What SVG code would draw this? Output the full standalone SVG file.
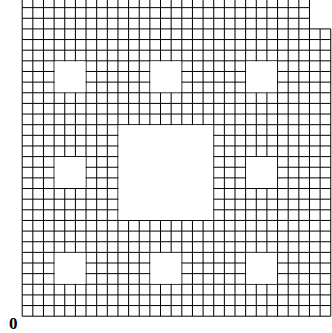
<svg xmlns="http://www.w3.org/2000/svg" width="332" height="333" viewBox="0 0 332 333">
<style>
.g line{stroke:#000;stroke-width:1}
.hole{fill:#fff;stroke:none}
.lbl{font-family:"Liberation Serif","Times New Roman",serif;font-weight:bold;font-size:17px;fill:#000}
</style>
<rect width="332" height="333" fill="#fff"/>
<g id="grid" class="g">
<g id="verticals">
<line x1="22.2" y1="0" x2="22.2" y2="316.2"/>
<line x1="32.84" y1="0" x2="32.84" y2="316.2"/>
<line x1="43.48" y1="0" x2="43.48" y2="316.2"/>
<line x1="54.12" y1="0" x2="54.12" y2="316.2"/>
<line x1="64.76" y1="0" x2="64.76" y2="316.2"/>
<line x1="75.4" y1="0" x2="75.4" y2="316.2"/>
<line x1="86.04" y1="0" x2="86.04" y2="316.2"/>
<line x1="96.68" y1="0" x2="96.68" y2="316.2"/>
<line x1="107.32" y1="0" x2="107.32" y2="316.2"/>
<line x1="117.96" y1="0" x2="117.96" y2="316.2"/>
<line x1="128.6" y1="0" x2="128.6" y2="316.2"/>
<line x1="139.24" y1="0" x2="139.24" y2="316.2"/>
<line x1="149.88" y1="0" x2="149.88" y2="316.2"/>
<line x1="160.52" y1="0" x2="160.52" y2="316.2"/>
<line x1="171.16" y1="0" x2="171.16" y2="316.2"/>
<line x1="181.8" y1="0" x2="181.8" y2="316.2"/>
<line x1="192.44" y1="0" x2="192.44" y2="316.2"/>
<line x1="203.08" y1="0" x2="203.08" y2="316.2"/>
<line x1="213.72" y1="0" x2="213.72" y2="316.2"/>
<line x1="224.36" y1="0" x2="224.36" y2="316.2"/>
<line x1="235" y1="0" x2="235" y2="316.2"/>
<line x1="245.64" y1="0" x2="245.64" y2="316.2"/>
<line x1="256.28" y1="0" x2="256.28" y2="316.2"/>
<line x1="266.92" y1="0" x2="266.92" y2="316.2"/>
<line x1="277.56" y1="0" x2="277.56" y2="316.2"/>
<line x1="288.2" y1="0" x2="288.2" y2="316.2"/>
<line x1="298.84" y1="0" x2="298.84" y2="316.2"/>
<line x1="309.48" y1="0" x2="309.48" y2="316.2"/>
<line x1="320.12" y1="28.92" x2="320.12" y2="316.2"/>
<line x1="330.76" y1="28.92" x2="330.76" y2="316.2"/>
</g>
<g id="horizontals">
<line x1="22.2" y1="316.2" x2="330.76" y2="316.2"/>
<line x1="22.2" y1="305.56" x2="330.76" y2="305.56"/>
<line x1="22.2" y1="294.92" x2="330.76" y2="294.92"/>
<line x1="22.2" y1="284.28" x2="330.76" y2="284.28"/>
<line x1="22.2" y1="273.64" x2="330.76" y2="273.64"/>
<line x1="22.2" y1="263" x2="330.76" y2="263"/>
<line x1="22.2" y1="252.36" x2="330.76" y2="252.36"/>
<line x1="22.2" y1="241.72" x2="330.76" y2="241.72"/>
<line x1="22.2" y1="231.08" x2="330.76" y2="231.08"/>
<line x1="22.2" y1="220.44" x2="330.76" y2="220.44"/>
<line x1="22.2" y1="209.8" x2="330.76" y2="209.8"/>
<line x1="22.2" y1="199.16" x2="330.76" y2="199.16"/>
<line x1="22.2" y1="188.52" x2="330.76" y2="188.52"/>
<line x1="22.2" y1="177.88" x2="330.76" y2="177.88"/>
<line x1="22.2" y1="167.24" x2="330.76" y2="167.24"/>
<line x1="22.2" y1="156.6" x2="330.76" y2="156.6"/>
<line x1="22.2" y1="145.96" x2="330.76" y2="145.96"/>
<line x1="22.2" y1="135.32" x2="330.76" y2="135.32"/>
<line x1="22.2" y1="124.68" x2="330.76" y2="124.68"/>
<line x1="22.2" y1="114.04" x2="330.76" y2="114.04"/>
<line x1="22.2" y1="103.4" x2="330.76" y2="103.4"/>
<line x1="22.2" y1="92.76" x2="330.76" y2="92.76"/>
<line x1="22.2" y1="82.12" x2="330.76" y2="82.12"/>
<line x1="22.2" y1="71.48" x2="330.76" y2="71.48"/>
<line x1="22.2" y1="60.84" x2="330.76" y2="60.84"/>
<line x1="22.2" y1="50.2" x2="330.76" y2="50.2"/>
<line x1="22.2" y1="39.56" x2="330.76" y2="39.56"/>
<line x1="22.2" y1="28.92" x2="330.76" y2="28.92"/>
<line x1="22.2" y1="18.28" x2="309.48" y2="18.28"/>
<line x1="22.2" y1="7.64" x2="309.48" y2="7.64"/>
</g>
</g>
<g id="holes">
<rect class="hole" x="118.46" y="125.18" width="94.76" height="94.76"/>
<rect class="hole" x="54.62" y="61.34" width="30.92" height="30.92"/>
<rect class="hole" x="150.38" y="61.34" width="30.92" height="30.92"/>
<rect class="hole" x="246.14" y="61.34" width="30.92" height="30.92"/>
<rect class="hole" x="54.62" y="157.1" width="30.92" height="30.92"/>
<rect class="hole" x="246.14" y="157.1" width="30.92" height="30.92"/>
<rect class="hole" x="54.62" y="252.86" width="30.92" height="30.92"/>
<rect class="hole" x="150.38" y="252.86" width="30.92" height="30.92"/>
<rect class="hole" x="246.14" y="252.86" width="30.92" height="30.92"/>
</g>
<text id="origin" class="lbl" x="9" y="329">0</text>
</svg>
